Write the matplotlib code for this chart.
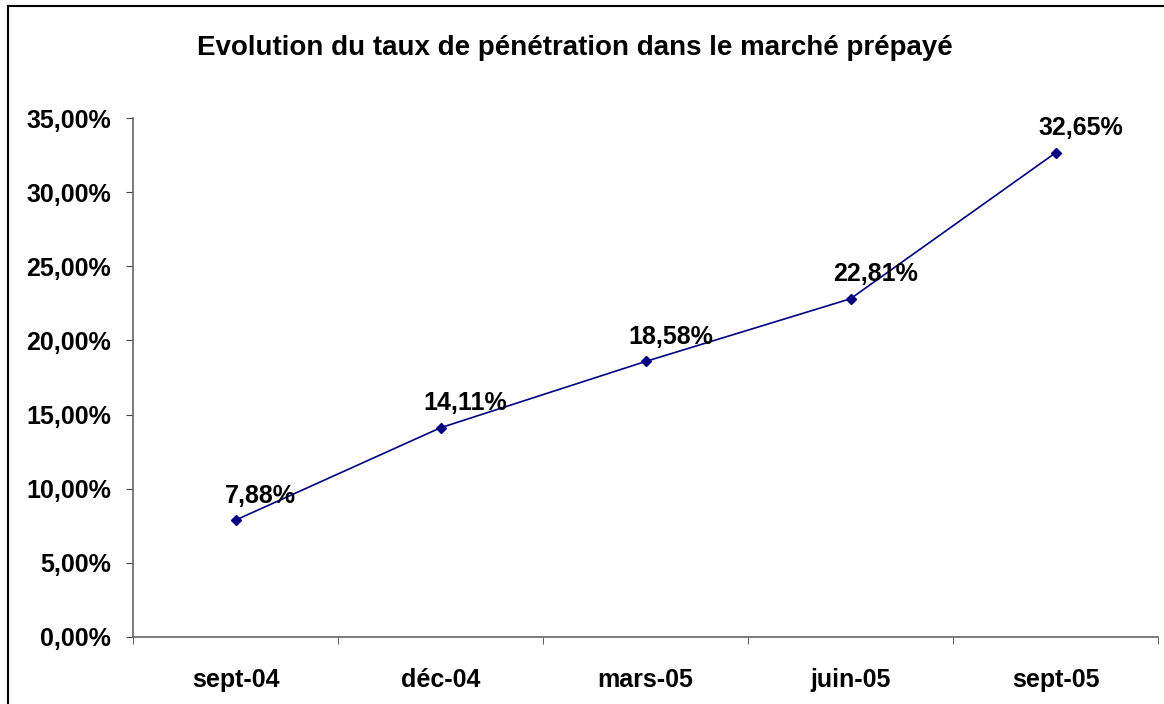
import matplotlib.pyplot as plt
from matplotlib.patches import Rectangle
from matplotlib.ticker import FuncFormatter

periods = ["sept-04", "déc-04", "mars-05", "juin-05", "sept-05"]
taux = [7.88, 14.11, 18.58, 22.81, 32.65]
labels = ["7,88%", "14,11%", "18,58%", "22,81%", "32,65%"]
yticks = [0, 5, 10, 15, 20, 25, 30, 35]

plt.rcParams['font.family'] = ['Liberation Sans', 'DejaVu Sans']
plt.rcParams['font.weight'] = 'bold'

fig = plt.figure(figsize=(11.64, 7.04), dpi=100)
ax = fig.add_axes([133 / 1164, 1 - 637 / 704, 1025 / 1164, 519 / 704])

# outer chart border (left and top visible)
fig.patches.append(Rectangle((8 / 1164, -0.5), 2, 1.5 - 6 / 704, transform=fig.transFigure,
                             fill=False, edgecolor='black', linewidth=1.5))

x = list(range(len(periods)))
ax.plot(x, taux, color='#000080', linewidth=1.2, marker='D', markersize=5.5)
for xi, yi, lab in zip(x, taux, labels):
    ax.annotate(lab, (xi, yi), xytext=(18, 9), textcoords='offset points',
                ha='center', va='bottom', fontsize=18, fontweight='bold')

ax.set_xlim(-0.5, len(periods) - 0.5)
ax.set_ylim(0, 35)
ax.set_yticks(yticks)
ax.yaxis.set_major_formatter(FuncFormatter(lambda v, p: "{:.2f}%".format(v).replace('.', ',')))
ax.set_xticks(x)
ax.set_xticklabels(periods)
ax.set_xticks([i - 0.5 for i in range(len(periods) + 1)], minor=True)
ax.tick_params(axis='x', which='major', length=0, pad=22, labelsize=18)
ax.tick_params(axis='x', which='minor', length=5, color='#444444', direction='out')
ax.tick_params(axis='y', length=5, color='#444444', pad=11, labelsize=18)
for s in ['top', 'right']:
    ax.spines[s].set_visible(False)
for s in ['left', 'bottom']:
    ax.spines[s].set_color('#666666')
    ax.spines[s].set_linewidth(1.2)

fig.text(575 / 1164, 1 - 48 / 704, "Evolution du taux de pénétration dans le marché prépayé",
         ha='center', va='center', fontsize=20, fontweight='bold')

fig.savefig("out.png", dpi=100)
